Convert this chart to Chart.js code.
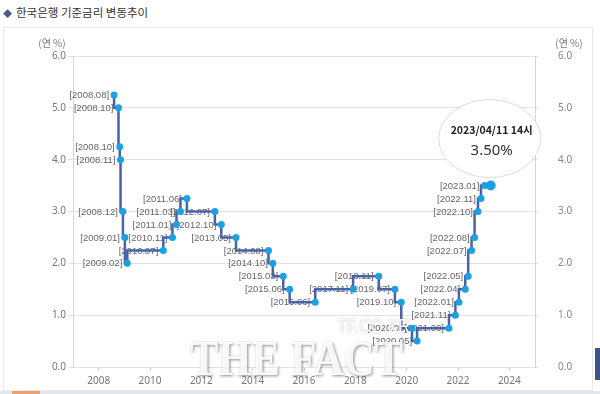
<!DOCTYPE html>
<html>
<head>
<meta charset="utf-8">
<script src="https://cdn.jsdelivr.net/npm/chart.js@4.4.0/dist/chart.umd.min.js"></script>
<style>
body{margin:0;background:#fff;}
#wrap{position:relative;width:600px;height:394px;overflow:hidden;font-family:"Noto Sans CJK KR",sans-serif;}
#title{position:absolute;left:3px;top:4px;font-size:11.5px;color:#333;white-space:nowrap;}
#title span{color:#4a5a8c;font-size:9px;margin-right:4px;}
#box{position:absolute;left:3px;top:27px;width:588px;height:362px;border:1px solid #e8e8e8;}
#strip{position:absolute;left:0;top:391px;width:600px;height:3px;background:#dfe8ef;}
#strip i{position:absolute;left:12px;top:0;width:28px;height:3px;background:#f0a06c;}
#side{position:absolute;left:595px;top:348px;width:5px;height:32px;background:#3d5488;}
canvas{position:absolute;left:0;top:0;}
</style>
</head>
<body>
<div id="wrap">
  <div id="box"></div>
  <div id="title"><span>◆</span>한국은행 기준금리 변동추이</div>
  <div id="strip"><i></i></div>
  <div id="side"></div>
  <canvas id="myChart" width="600" height="394"></canvas>
</div>
<script>
// ****** 기준금리 변경일 / 금리 ******
var rateDates = ['2008-08-07','2008-10-09','2008-10-27','2008-11-07','2008-12-11','2009-01-09','2009-02-12',
    '2010-07-09','2010-11-16','2011-01-13','2011-03-10','2011-06-10','2012-07-12','2012-10-11','2013-05-09',
    '2014-08-14','2014-10-15','2015-03-12','2015-06-11','2016-06-09','2017-11-30','2018-11-30','2019-07-18',
    '2019-10-16','2020-03-17','2020-05-28','2021-08-26','2021-11-25','2022-01-14','2022-04-14','2022-05-26',
    '2022-07-13','2022-08-25','2022-10-12','2022-11-24','2023-01-13','2023-04-11'];
var rateValues = [5.25,5.00,4.25,4.00,3.00,2.50,2.00,
    2.25,2.50,2.75,3.00,3.25,3.00,2.75,2.50,
    2.25,2.00,1.75,1.50,1.25,1.50,1.75,1.50,
    1.25,0.75,0.50,0.75,1.00,1.25,1.50,1.75,
    2.25,2.50,3.00,3.25,3.50,3.50];
var yearTicks = [2008,2010,2012,2014,2016,2018,2020,2022,2024];
var rateTicks = [0,1,2,3,4,5,6];
var unitLabel = '(연 %)';
var nowLabel = '2023/04/11 14시';
var nowValue = '3.50%';

var toYear = function(s) {
    var p = s.split('-');
    var y = +p[0];
    var start = Date.UTC(y,0,1);
    var d = Date.UTC(y,+p[1]-1,+p[2]);
    return y + (d-start)/(365*86400000);
}
var dateLabel = function(s) {
    var p = s.split('-');
    return '[' + p[0] + '.' + p[1] + ']';
}

var points = rateDates.map(function(d,i){ return {x: toYear(d), y: rateValues[i]}; });
var last = points.length-1;

var tickFont = {family: '"Noto Sans", "Liberation Sans", sans-serif', size: 10};

/******라벨 / 말풍선 / 워터마크******/
var extras = {
    id: 'extras',
    beforeDatasetsDraw: function(chart) {
        var c = chart.ctx;
        var meta = chart.getDatasetMeta(0);
        c.save();
        c.font = '9.5px "Liberation Sans", sans-serif';
        c.fillStyle = '#666';
        c.textAlign = 'right';
        c.textBaseline = 'middle';
        for (var i = 0; i < last; i++) {
            var el = meta.data[i];
            c.fillText(dateLabel(rateDates[i]), el.x-5, el.y+0.5);
        }
        // unit labels
        c.font = '10px "Noto Sans CJK KR", sans-serif';
        c.fillStyle = '#777';
        c.textAlign = 'center';
        c.fillText(unitLabel, 52, 43);
        c.fillText(unitLabel, 569, 43);
        c.restore();
    },
    afterDatasetsDraw: function(chart) {
        var c = chart.ctx;
        var meta = chart.getDatasetMeta(0);
        c.save();
        c.textAlign = 'center';
        c.textBaseline = 'middle';
        // bubble
        var p = meta.data[last];
        var cx = p.x-1, cy = p.y-47;
        c.beginPath();
        c.ellipse(cx, cy, 51, 39, 0, 0, Math.PI*2);
        c.fillStyle = '#fff';
        c.fill();
        c.strokeStyle = '#dcdcdc';
        c.lineWidth = 1;
        c.stroke();
        c.fillStyle = '#222';
        c.font = 'bold 10.5px "Noto Sans CJK KR", sans-serif';
        c.fillText(nowLabel, cx+2, cy-9);
        c.fillStyle = '#333';
        c.font = '15px "Noto Sans", sans-serif';
        c.fillText(nowValue, cx+2, cy+12);
        c.restore();
    },
    afterDraw: function(chart) {
        var c = chart.ctx;
        c.save();
        c.textBaseline = 'alphabetic';
        c.textAlign = 'left';
        c.shadowColor = 'rgba(0,0,0,0.5)';
        c.shadowBlur = 3;
        c.shadowOffsetX = 1;
        c.shadowOffsetY = 1;
        c.fillStyle = 'rgba(255,255,255,0.92)';
        c.font = 'bold 50px "Liberation Serif", serif';
        var w = c.measureText('THE FACT').width;
        c.translate(190, 375);
        c.scale(213/w, 1);
        c.fillText('THE FACT', 0, 0);
        c.restore();
        c.save();
        c.shadowColor = 'rgba(0,0,0,0.35)';
        c.shadowBlur = 2;
        c.fillStyle = 'rgba(255,255,255,0.92)';
        c.font = '21px "Liberation Sans", sans-serif';
        var w2 = c.measureText('TF.CO.KR').width;
        c.translate(337, 333);
        c.scale(73/w2, 1);
        c.fillText('TF.CO.KR', 0, 0);
        c.restore();
    }
};

var ctx = document.getElementById('myChart').getContext('2d');
var myChart = new Chart(ctx, {
    type: 'line',
    data: {
        datasets: [{
            data: points,
            stepped: 'after',
            borderColor: '#4a63a8',
            borderWidth: 2.5,
            pointBackgroundColor: '#1ba1e2',
            pointBorderColor: '#1ba1e2',
            pointBorderWidth: 0,
            pointRadius: function(c) { return c.dataIndex === last ? 5 : 3.5; },
            fill: false
        }]
    },
    options: {
        responsive: false,
        animation: false,
        layout: { padding: { top: 56, left: 0, right: 0, bottom: 0 } },
        plugins: {
            legend: { display: false },
            tooltip: { enabled: false }
        },
        scales: {
            x: {
                type: 'linear',
                min: 2007,
                max: 2025,
                afterBuildTicks: function(s) { s.ticks = yearTicks.map(function(v){ return {value: v}; }); },
                afterFit: function(s) { s.height = 27; },
                grid: { drawOnChartArea: false, tickLength: 4, color: '#ccc' },
                border: { display: false },
                ticks: { font: tickFont, color: '#777', padding: 4, callback: function(v){ return String(v); } }
            },
            y: {
                position: 'left',
                min: 0,
                max: 6,
                afterBuildTicks: function(s) { s.ticks = rateTicks.map(function(v){ return {value: v}; }); },
                afterFit: function(s) { s.width = 73; },
                grid: { color: '#e2e2e2', tickLength: 5 },
                border: { color: '#d4d4d4' },
                ticks: { font: tickFont, color: '#777', padding: 2, callback: function(v){ return v.toFixed(1); } }
            },
            y2: {
                position: 'right',
                min: 0,
                max: 6,
                afterBuildTicks: function(s) { s.ticks = rateTicks.map(function(v){ return {value: v}; }); },
                afterFit: function(s) { s.width = 65; },
                grid: { drawOnChartArea: false, tickLength: 3, color: '#e2e2e2' },
                border: { color: '#d4d4d4' },
                ticks: { font: tickFont, color: '#888', padding: 20, callback: function(v){ return v.toFixed(1); } }
            }
        }
    },
    plugins: [extras]
});
</script>
</body>
</html>
